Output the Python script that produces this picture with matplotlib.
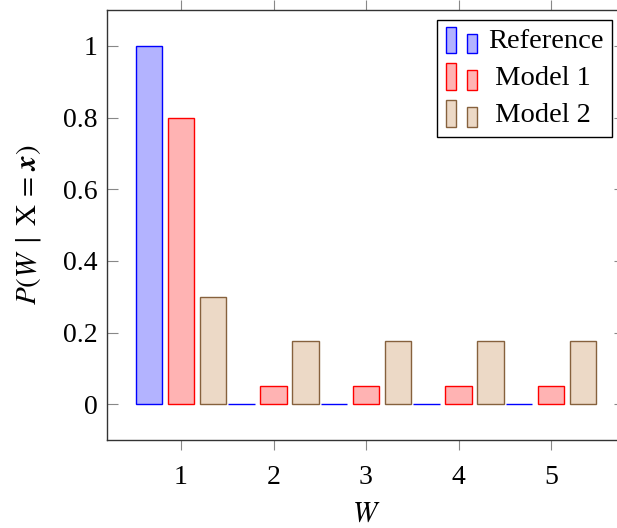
import matplotlib
matplotlib.use('Agg')
import matplotlib.pyplot as plt
from matplotlib.patches import Rectangle
from matplotlib.legend_handler import HandlerBase
import numpy as np

plt.rcParams['font.family'] = ['Liberation Serif', 'DejaVu Serif']
plt.rcParams['mathtext.fontset'] = 'stix'

# data
w = [1, 2, 3, 4, 5]
reference = [1.0, 0.0, 0.0, 0.0, 0.0]
model1 = [0.8, 0.05, 0.05, 0.05, 0.05]
model2 = [0.3, 0.175, 0.175, 0.175, 0.175]
series_names = ['Reference', ' Model 1', ' Model 2']
yticks = [0, 0.2, 0.4, 0.6, 0.8, 1]
ytick_labels = ['0', '0.2', '0.4', '0.6', '0.8', '1']

fills = ['#b3b3ff', '#ffb3b3', '#ecd9c6']
edges = ['#0000ff', '#ff0000', '#86613d']


class TwoBars(HandlerBase):
    # pgfplots style ybar legend: two little bars
    def create_artists(self, legend, orig, xd, yd, width, height, fontsize, trans):
        fc = orig.get_facecolor()
        ec = orig.get_edgecolor()
        bw = width * 0.3
        r1 = Rectangle((xd, yd - height * 0.25), bw, height * 1.35,
                       facecolor=fc, edgecolor=ec, lw=1.0, transform=trans)
        r2 = Rectangle((xd + width * 0.62, yd - height * 0.25), bw, height * 1.0,
                       facecolor=fc, edgecolor=ec, lw=1.0, transform=trans)
        return [r1, r2]


fig = plt.figure(figsize=(6.17, 5.28), dpi=100)
ax = fig.add_axes([107 / 617, 88 / 528, (625 - 107) / 617, (440 - 10) / 528])

x = np.array(w)
off = 0.346
bw = 0.29
handles = []
for i, vals in enumerate([reference, model1, model2]):
    b = ax.bar(x + (i - 1) * off, vals, width=bw, color=fills[i],
               edgecolor=edges[i], linewidth=1.0, label=series_names[i])
    handles.append(b.patches[0])

ax.set_xlim(0.2, 5.8)
ax.set_ylim(-0.1, 1.1)
ax.set_xticks(w)
ax.set_yticks(yticks)
ax.set_yticklabels(ytick_labels)

for s in ax.spines.values():
    s.set_color('#333333')
    s.set_linewidth(1.0)

ax.tick_params(axis='x', direction='out', length=7, width=0.8, color='#888888',
               labelsize=20, pad=11, top=True)
ax.tick_params(axis='y', direction='in', length=8, width=0.8, color='#888888',
               labelsize=20, pad=7, right=True)

ax.set_xlabel('$W$', fontsize=21, labelpad=8)
ax.set_ylabel(r'$P(W\;\mid\;\mathrm{X}\,=\,\mathbfit{x})$', fontsize=21, labelpad=14)

leg = fig.legend(handles, series_names, loc='upper left',
                 bbox_to_anchor=(437 / 617, 1 - 20 / 528), fontsize=20.5,
                 handler_map={Rectangle: TwoBars()}, frameon=True, fancybox=False,
                 edgecolor='black', framealpha=1, borderpad=0.3, labelspacing=0.38,
                 handlelength=1.2, handletextpad=0.3, borderaxespad=0)
leg.get_frame().set_linewidth(1.0)

fig.savefig('out.png', dpi=100)
